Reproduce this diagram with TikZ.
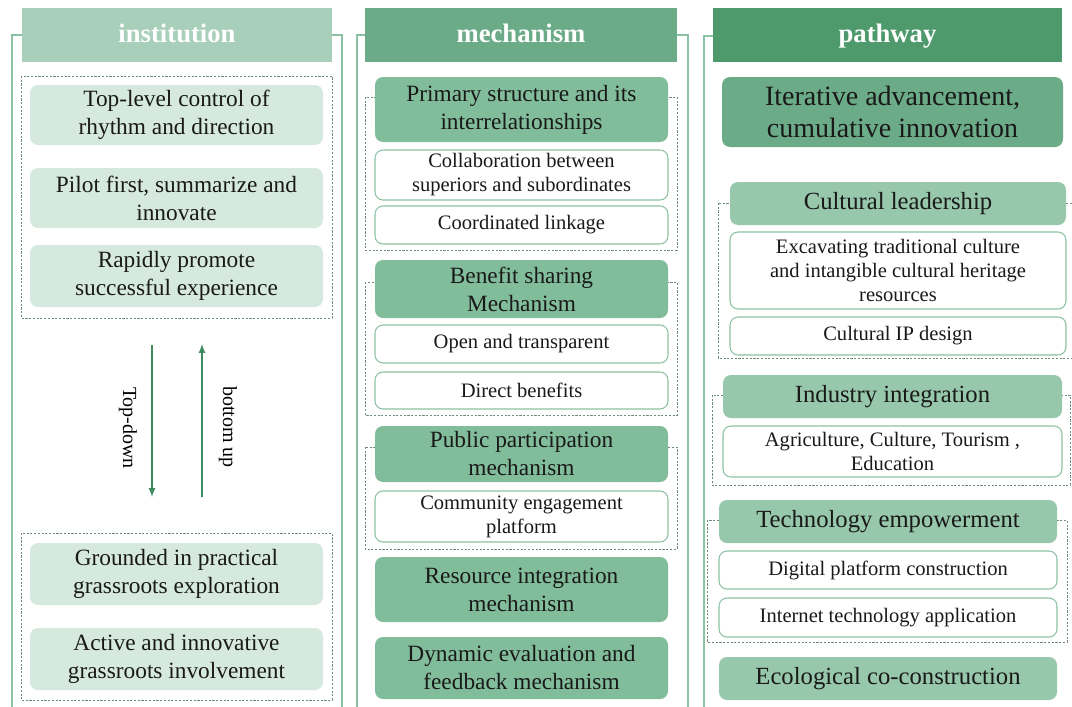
\documentclass[tikz,border=0pt]{standalone}
\usepackage{fontspec}
\setmainfont{Liberation Serif}
\usepackage{tikz}
\usetikzlibrary{arrows}

\definecolor{hdA}{HTML}{A8CFBA}
\definecolor{hdB}{HTML}{6CAB87}
\definecolor{hdC}{HTML}{4F9A6D}
\definecolor{paleG}{HTML}{D6E9DE}
\definecolor{midG}{HTML}{82BD9B}
\definecolor{liteG}{HTML}{97C8AB}
\definecolor{lineG}{HTML}{8CC2A4}
\definecolor{dashG}{HTML}{6E8A7B}
\definecolor{arrG}{HTML}{3D8C5F}

\begin{document}
\begin{tikzpicture}[x=0.75pt, y=-0.75pt,
            >=latex,
            sz/.style 2 args={minimum width=#1*0.75pt, minimum height=#2*0.75pt},
            head/.style={fill=#1, text=white, inner sep=0pt,
                         text height=14pt, text depth=3pt,
                         font=\fontsize{20}{24}\selectfont\bfseries},
            frame/.style={draw=lineG, line width=1pt},
            grp/.style={draw=dashG, line width=0.7pt, dash pattern=on 1.6pt off 1.2pt},
            card/.style={fill=#1, rounded corners=6pt, align=center, inner sep=0pt,
                         text=black!90, font=\fontsize{17.5}{21}\selectfont},
            sub/.style={draw=lineG, fill=white, line width=0.8pt, rounded corners=6pt,
                        align=center, inner sep=0pt, text=black!90,
                        font=\fontsize{15.4}{18}\selectfont},
            flow/.style={->, draw=arrG, line width=1.3pt},
            side/.style={rotate=-90, font=\fontsize{15}{18}\selectfont}]

        \useasboundingbox (0,0) rectangle (1072,707);

        % institution
        \draw[frame] (12,710) |- (22,35);
        \draw[frame] (342,710) |- (332,35);
        \node[head=hdA, sz={310}{54}] (hd1) at (177,35) {institution};

        \draw[grp] (21,76) rectangle (332,318);
        \node[card=paleG, sz={293}{60}] (i1) at (176.5,115) {Top-level control of\\rhythm and direction};
        \node[card=paleG, sz={293}{60}] (i2) at (176.5,198) {Pilot first, summarize and\\innovate};
        \node[card=paleG, sz={293}{62}] (i3) at (176.5,276) {Rapidly promote\\successful experience};

        \coordinate (td1) at (152,345);
        \coordinate (td2) at (152,497);
        \coordinate (bu1) at (202,497);
        \coordinate (bu2) at (202,344);
        \draw[flow] (td1) -- (td2);
        \draw[flow] (bu1) -- (bu2);
        \node[side] (tdl) at (128,428) {Top-down};
        \node[side] (bul) at (228,427) {bottom up};

        \draw[grp] (21,533) rectangle (332,700);
        \node[card=paleG, sz={293}{62}] (i4) at (176.5,574) {Grounded in practical\\grassroots exploration};
        \node[card=paleG, sz={293}{62}] (i5) at (176.5,659) {Active and innovative\\grassroots involvement};

        % mechanism
        \draw[frame] (357,710) |- (365,35);
        \draw[frame] (688,710) |- (677,35);
        \node[head=hdB, sz={312}{54}] (hd2) at (521,35) {mechanism};

        \draw[grp] (365,97) rectangle (677,250);
        \node[card=midG, sz={293}{65}] (m1) at (521.5,109.5) {Primary structure and its\\interrelationships};
        \node[sub, sz={293}{50}] (m1a) at (521.5,175) {Collaboration between\\superiors and subordinates};
        \node[sub, sz={293}{38}] (m1b) at (521.5,225) {Coordinated linkage};

        \draw[grp] (365,282) rectangle (677,415);
        \node[card=midG, sz={293}{58}] (m2) at (521.5,289) {Benefit sharing\\Mechanism};
        \node[sub, sz={293}{38}] (m2a) at (521.5,344) {Open and transparent};
        \node[sub, sz={293}{37}] (m2b) at (521.5,390.5) {Direct benefits};

        \draw[grp] (365,447) rectangle (677,549);
        \node[card=midG, sz={293}{56}] (m3) at (521.5,454) {Public participation\\mechanism};
        \node[sub, sz={293}{51}] (m3a) at (521.5,516.5) {Community engagement\\platform};

        \node[card=midG, sz={293}{65}] (m4) at (521.5,589.5) {Resource integration\\mechanism};
        \node[card=midG, sz={293}{62}] (m5) at (521.5,668) {Dynamic evaluation and\\feedback mechanism};

        % pathway
        \draw[frame] (704,710) |- (713,36);
        \node[head=hdC, sz={349}{54}] (hd3) at (887.5,35) {pathway};

        \node[card=hdB, sz={341}{70}, font=\fontsize{21}{24}\selectfont] (p1) at (892.5,112)
            {Iterative advancement,\\cumulative innovation};

        \draw[grp] (718,203) rectangle (1076,358);
        \node[card=liteG, sz={336}{43}, font=\fontsize{18.5}{22}\selectfont] (p2) at (898,203.5) {Cultural leadership};
        \node[sub, sz={336}{77}] (p2a) at (898,270.5) {Excavating traditional culture\\and intangible cultural heritage\\resources};
        \node[sub, sz={336}{38}] (p2b) at (898,336) {Cultural IP design};

        \draw[grp] (712,395) rectangle (1070,485);
        \node[card=liteG, sz={339}{43}, font=\fontsize{18.5}{22}\selectfont] (p3) at (892.5,396.5) {Industry integration};
        \node[sub, sz={339}{51}] (p3a) at (892.5,451.5) {Agriculture, Culture, Tourism ,\\Education};

        \draw[grp] (707,520) rectangle (1067,642);
        \node[card=liteG, sz={338}{43}, font=\fontsize{18.5}{22}\selectfont] (p4) at (888,521.5) {Technology empowerment};
        \node[sub, sz={338}{38}] (p4a) at (888,570) {Digital platform construction};
        \node[sub, sz={338}{39}] (p4b) at (888,617.5) {Internet technology application};

        \node[card=liteG, sz={338}{43}, font=\fontsize{18.5}{22}\selectfont] (p5) at (888,678.5) {Ecological co-construction};

    \end{tikzpicture}
\end{document}
